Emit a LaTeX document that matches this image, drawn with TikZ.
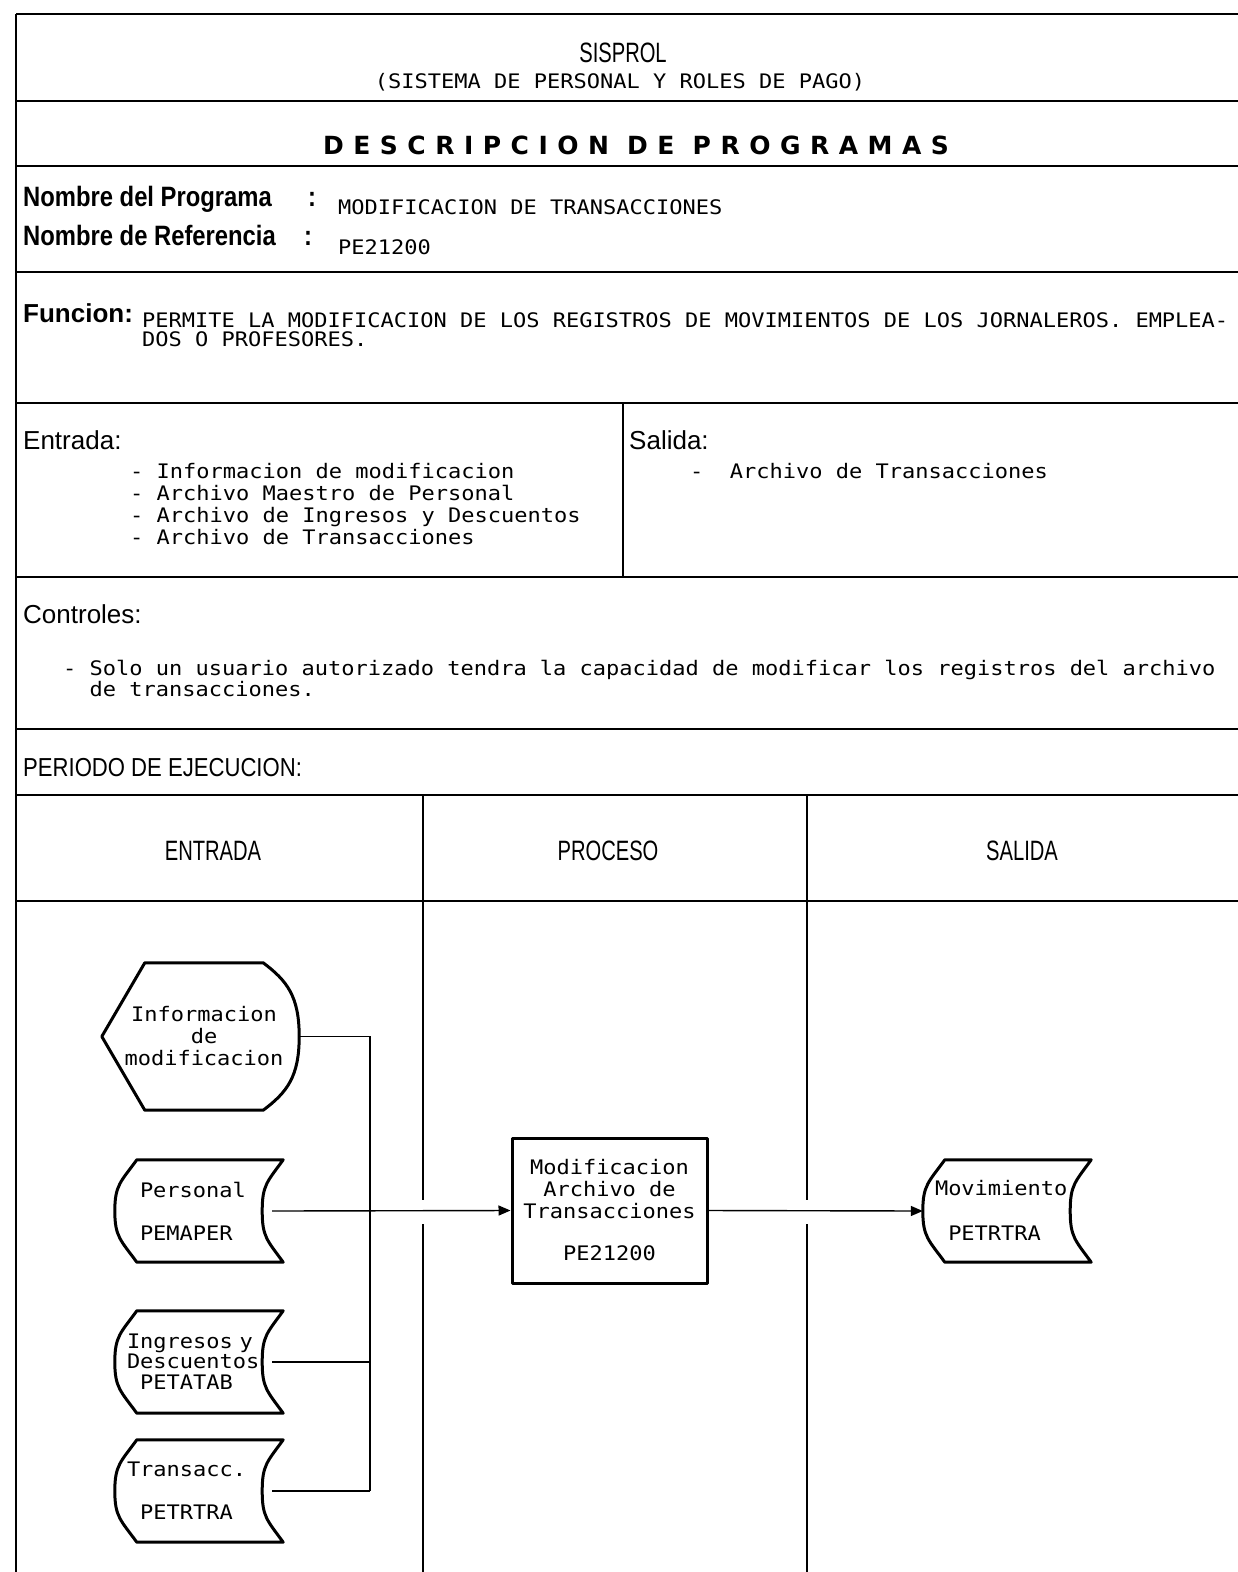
\documentclass[tikz,border=0pt]{standalone}
\usepackage{fontspec}
\newfontfamily\plotter[FakeStretch=1.1]{DejaVu Sans Mono}
\newfontfamily\estrecha[FakeStretch=0.72]{Liberation Sans}
\newfontfamily\condensada[FakeStretch=0.85]{Liberation Sans}
\newfontfamily\rotulo{Liberation Sans}
\newfontfamily\titulo[LetterSpace=38]{DejaVu Sans}
\usetikzlibrary{arrows.meta}

\tikzset{
  linea/.style={line width=1.8pt},
  simbolo/.style={line width=3pt, line join=round},
  conector/.style={line width=1.4pt},
  flecha/.style={conector, -{Triangle[length=12pt,width=10pt]}},
  texto/.style={font=\plotter\fontsize{20}{22}\selectfont, inner sep=0pt},
  encabezado/.style={font=\estrecha\fontsize{28}{30}\selectfont, inner sep=0pt},
  campo/.style={font=\rotulo\fontsize{26}{28}\selectfont, inner sep=0pt},
  negrita/.style={font=\condensada\bfseries\fontsize{28}{30}\selectfont, inner sep=0pt},
  archivo/.style={texto, align=left, text width=132pt, minimum width=168pt, minimum height=102pt}
}

% simbolo de archivo (almacenamiento)
\newcommand{\simboloarchivo}[1]{%
  \draw[simbolo] ([xshift=22pt]#1.north west) -- (#1.north east)
    .. controls +(-16,22) and +(0,-26) .. ([xshift=-21pt]#1.east)
    .. controls +(0,26) and +(-16,-22) .. (#1.south east)
    -- ([xshift=22pt]#1.south west)
    .. controls +(-16,-22) and +(0,26) .. (#1.west)
    .. controls +(0,-26) and +(-16,22) .. ([xshift=22pt]#1.north west) -- cycle;}

\begin{document}
\begin{tikzpicture}[x=1pt,y=-1pt]
  \useasboundingbox[fill=white] (0,0) rectangle (1238,1572);

  % Marco y divisiones
  \draw[linea] (16,14) -- (16,1572);
  \foreach \y in {14,101,166,272,403,577,729,795,901}
    \draw[linea] (16,\y) -- (1238,\y);
  \draw[linea] (623,403) -- (623,577);
  % columnas, cortadas donde pasan las flechas
  \foreach \x in {423,807} {
    \draw[conector] (\x,795) -- (\x,1200);
    \draw[conector] (\x,1224) -- (\x,1572);
  }

  % Titulo
  \node[encabezado, anchor=base] (sisprol) at (623,62) {SISPROL};
  \node[texto, anchor=base] (sistema) at (620,88) {(SISTEMA DE PERSONAL Y ROLES DE PAGO)};
  \node[font=\titulo\bfseries\fontsize{25}{27}\selectfont, inner sep=0pt, anchor=base] (descripcion) at (636,154) {DESCRIPCION DE PROGRAMAS};

  % Nombres
  \node[negrita, anchor=base west] (nomprog) at (23,206) {\makebox[285pt][l]{Nombre del Programa}:};
  \node[texto, anchor=base west] (programa) at (338,214) {MODIFICACION DE TRANSACCIONES};
  \node[negrita, anchor=base west] (nomref) at (23,245) {\makebox[281pt][l]{Nombre de Referencia}:};
  \node[texto, anchor=base west] (referencia) at (338,254) {PE21200};

  % Funcion
  \node[campo, anchor=base west] (funcion) at (23,322) {\bfseries Funcion:};
  \node[texto, anchor=north west, align=left, font=\plotter\fontsize{20}{19}\selectfont] (funciontxt) at (142,312)
    {PERMITE LA MODIFICACION DE LOS REGISTROS DE MOVIMIENTOS DE LOS JORNALEROS. EMPLEA-\\DOS O PROFESORES.};

  % Entrada / Salida
  \node[campo, anchor=base west] (entrada) at (23,449) {Entrada:};
  \node[texto, anchor=north west, align=left] (entradatxt) at (130,463)
    {- Informacion de modificacion\\- Archivo Maestro de Personal\\- Archivo de Ingresos y Descuentos\\- Archivo de Transacciones};
  \node[campo, anchor=base west] (salida) at (629,449) {Salida:};
  \node[texto, anchor=base west] (salidatxt) at (690,478) {-~~Archivo de Transacciones};

  % Controles
  \node[campo, anchor=base west] (controles) at (23,623) {Controles:};
  \node[texto, anchor=north west, align=left, font=\plotter\fontsize{20}{19}\selectfont] (controlestxt) at (63,660)
    {- Solo un usuario autorizado tendra la capacidad de modificar los registros del archivo\\\phantom{00}de transacciones.};

  \node[campo, font=\condensada\fontsize{26}{28}\selectfont, anchor=base west] (periodo) at (23,776) {PERIODO DE EJECUCION:};

  % Cabecera de columnas
  \node[encabezado, anchor=base] (colentrada) at (213,860) {ENTRADA};
  \node[encabezado, anchor=base] (colproceso) at (608,860) {PROCESO};
  \node[encabezado, anchor=base] (colsalida) at (1022,860) {SALIDA};

  % Diagrama
  \node[texto, align=center, minimum width=190pt, minimum height=147pt] (info) at (204,1036.5) {Informacion\\de\\modificacion};
  \draw[simbolo] ([xshift=-7pt]info.west) -- ([xshift=36pt]info.north west) -- ([xshift=-36pt]info.north east)
    .. controls +(24,18) and +(0,-40) .. (info.east)
    .. controls +(0,40) and +(24,-18) .. ([xshift=-36pt]info.south east)
    -- ([xshift=36pt]info.south west) -- cycle;

  \node[archivo, text width=118pt] (per) at (199,1211) {Personal\\[21pt]PEMAPER};
  \node[archivo, text width=144pt] (ing) at (199,1362) {Ingresos y\\[-2pt]Descuentos\\[-1pt]\phantom{0}PETATAB};
  \node[archivo, text width=144pt] (tra) at (199,1491) {Transacc.\\[21pt]\phantom{0}PETRTRA};
  \node[archivo, text width=144pt] (mov) at (1007,1211) {Movimiento\\[23pt]\phantom{0}PETRTRA};
  \simboloarchivo{per}
  \simboloarchivo{ing}
  \simboloarchivo{tra}
  \simboloarchivo{mov}

  \node[texto, simbolo, draw, align=center, minimum width=195pt, minimum height=145pt] (proc) at (609.5,1210.5)
    {Modificacion\\Archivo de\\Transacciones\\[20pt]PE21200};

  % Conexiones
  \coordinate (bus) at (370,1491);
  \draw[conector] (info.east) -| (bus);
  \draw[conector] ([xshift=-11pt]ing.east) -- (ing.east -| bus);
  \draw[conector] ([xshift=-11pt]tra.east) -- (bus);
  \draw[flecha] ([xshift=-11pt]per.east) -- (proc.west);
  \draw[flecha] (proc.east) -- (mov.west);
\end{tikzpicture}
\end{document}
